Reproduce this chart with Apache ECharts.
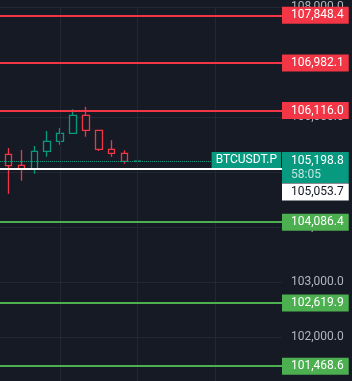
<!DOCTYPE html>
<html>
<head>
<meta charset="utf-8">
<script src="https://cdn.jsdelivr.net/npm/echarts@6/dist/echarts.min.js"></script>
<style>
  html, body { margin: 0; padding: 0; background: #161a25; }
  #chart { width: 352px; height: 381px; }
</style>
</head>
<body>
<div id="chart"></div>
<script>
// candles: [open, close, low, high]
const candles = [
  [105322, 105115, 104605, 105436],
  [105122, 105049, 104842, 105400],
  [105049, 105376, 104969, 105473],
  [105376, 105558, 105278, 105745],
  [105558, 105704, 105496, 105800],
  [105704, 106031, 105704, 106140],
  [106031, 105758, 105642, 106185],
  [105758, 105413, 105382, 105758],
  [105413, 105340, 105278, 105576],
  [105340, 105195, 105151, 105395],
  [105195, 105198.8, 105192, 105204]
];
// horizontal levels drawn across the chart
const redLevels = [107848.4, 106982.1, 106116.0];
const greenLevels = [104086.4, 102619.9, 101468.6];
const lastPrice = 105198.8;
const countdown = '58:05';
const symbolName = 'BTCUSDT.P';
const whiteLevel = 105053.7;
// vertical grid lines (candle index)
const timeGrid = [4, 10, 16];

const BG = '#161a25';
const GRID = '#232733';
const RED = '#f23645';
const GREEN = '#4caf50';
const TEAL = '#089981';
const FONT = 'Roboto, "Noto Sans", sans-serif';

// layout: first candle centre at 8.5px, 12.9px per candle, plot 282px wide
const step = 12.9, firstX = 8.5, plotW = 282;

function fmt(v) {
  return v.toLocaleString('en-US', { minimumFractionDigits: 1, maximumFractionDigits: 1 });
}

function levelLine(v, color) {
  return {
    yAxis: v,
    lineStyle: { color: color, width: 2, type: 'solid' },
    label: {
      show: true, position: 'end', distance: 0,
      formatter: fmt(v),
      backgroundColor: color, color: '#fff',
      fontFamily: FONT, fontSize: 12, lineHeight: 13,
      padding: [2, 5, 2, 9]
    }
  };
}

const chart = echarts.init(document.getElementById('chart'));

const option = {
  backgroundColor: BG,
  animation: false,
  // 55px per 1000, 108,000 sits 7px below the top
  grid: { left: 0, width: plotW, top: 7, height: 385, outerBoundsMode: 'none', containLabel: false },
  xAxis: {
    type: 'value',
    min: -firstX / step,
    max: (plotW - firstX) / step,
    axisLine: { show: false },
    axisTick: { show: false },
    axisLabel: { show: false },
    splitLine: { show: false }
  },
  yAxis: {
    type: 'value',
    position: 'right',
    min: 101000,
    max: 108000,
    interval: 1000,
    axisLine: { show: false },
    axisTick: { show: false },
    axisLabel: {
      color: '#b2b5be', fontSize: 12, fontFamily: FONT, margin: 9,
      formatter: fmt
    },
    splitLine: { lineStyle: { color: GRID, width: 1 } }
  },
  series: [
    {
      type: 'line',
      data: [],
      z: 1,
      markLine: {
        silent: true,
        symbol: ['none', 'none'],
        label: { show: false },
        lineStyle: { color: GRID, width: 1, type: 'solid' },
        data: timeGrid.map(i => ({ xAxis: i }))
      }
    },
    {
      type: 'candlestick',
      z: 2,
      barWidth: 7,
      encode: { x: 0, y: [1, 2, 3, 4] },
      data: candles.map((c, i) => [i].concat(c)),
      itemStyle: {
        color: BG, color0: BG,
        borderColor: TEAL, borderColor0: RED,
        borderWidth: 1.3
      },
      markLine: {
        silent: true,
        symbol: ['none', 'none'],
        data: [
          ...redLevels.map(v => levelLine(v, RED)),
          ...greenLevels.map(v => levelLine(v, GREEN)),
          {
            yAxis: whiteLevel,
            lineStyle: { color: '#ffffff', width: 2, type: 'solid' },
            label: {
              show: true, position: 'end', distance: 0, offset: [0, 23],
              formatter: fmt(whiteLevel),
              backgroundColor: '#ffffff', color: '#131722',
              fontFamily: FONT, fontSize: 12, lineHeight: 13,
              padding: [2, 5, 2, 9]
            }
          },
          {
            yAxis: lastPrice,
            lineStyle: { color: TEAL, width: 1, type: 'dotted' },
            label: {
              show: true, position: 'end', distance: 0, offset: [0, 6.5],
              formatter: '{p|' + fmt(lastPrice) + '}\n{t|' + countdown + '}',
              backgroundColor: TEAL,
              padding: [2, 5, 1, 9],
              rich: {
                p: { color: '#fff', fontFamily: FONT, fontSize: 12, lineHeight: 14 },
                t: { color: 'rgba(255,255,255,0.75)', fontFamily: FONT, fontSize: 12, lineHeight: 14 }
              }
            }
          },
          {
            yAxis: lastPrice,
            lineStyle: { color: 'transparent', width: 0 },
            label: {
              show: true, position: 'insideEndTop', distance: 1,
              verticalAlign: 'middle', opacity: 1,
              formatter: symbolName,
              backgroundColor: TEAL, color: '#fff',
              fontFamily: FONT, fontSize: 12, lineHeight: 13,
              padding: [2, 4, 1, 4]
            }
          }
        ]
      }
    }
  ]
};

chart.setOption(option);
</script>
</body>
</html>
